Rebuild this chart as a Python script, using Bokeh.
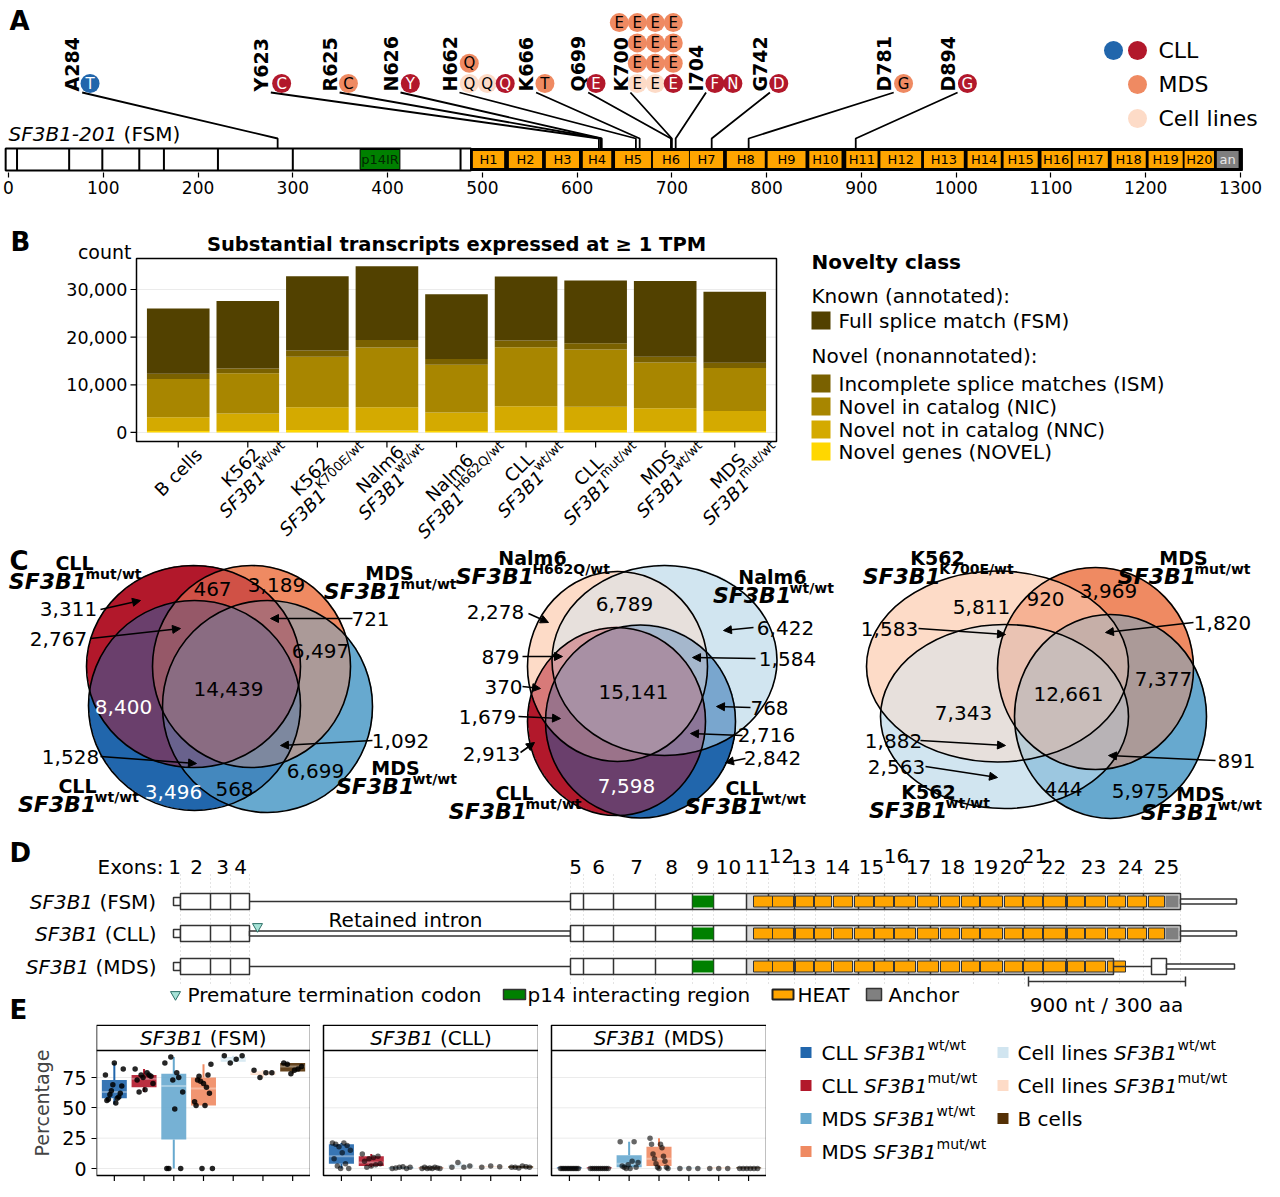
import numpy as np
from bokeh.plotting import figure
from bokeh.layouts import column, row
from bokeh.models import Range1d, FixedTicker, ColumnDataSource, Arrow, NormalHead
from bokeh.embed import file_html
from bokeh.resources import INLINE
from bokeh.core.properties import value

FONT = "DejaVu Sans"

# ======================= DATA =======================
# ---- Panel A: SF3B1 protein, hotspot mutations ----
protein_len = 1304
mut_pos = [284, 623, 625, 626, 662, 666, 699, 700, 704, 742, 781, 894]
mut_label = ["A284", "Y623", "R625", "N626", "H662", "K666", "Q699", "K700", "I704", "G742", "D781", "D894"]
var_mut = [0, 1, 2, 3, 4, 4, 4, 4, 5, 6,
           7, 7, 7, 7, 7, 7, 7, 7, 7, 7, 7, 7, 7,
           8, 8, 9, 10, 11]
var_aa = ["T", "C", "C", "Y", "Q", "Q", "Q", "Q", "T", "E",
          "E", "E", "E", "E", "E", "E", "E", "E", "E", "E", "E", "E", "E",
          "F", "N", "D", "G", "G"]
var_cohort = ["CLLb", "CLL", "MDS", "CLL", "CL", "CL", "CLL", "MDS", "MDS", "CLL",
              "CL", "CL", "CLL", "MDS", "MDS", "MDS", "MDS", "MDS", "MDS", "MDS", "MDS", "MDS", "MDS",
              "CLL", "CLL", "CLL", "MDS", "CLL"]
var_col = [0, 0, 0, 0, 0, 1, 2, 0, 0, 0,
           0, 1, 2, 0, 1, 2, 0, 1, 2, -1, 0, 1, 2,
           0, 1, 0, 0, 0]
var_row = [0, 0, 0, 0, 0, 0, 0, 1, 0, 0,
           0, 0, 0, 1, 1, 1, 2, 2, 2, 3, 3, 3, 3,
           0, 0, 0, 0, 0]
exon_div_aa = [9, 64, 99, 138, 164, 221, 300, 477]
p14_aa = (371, 413)
heat_region_aa = (488, 1302)
heat_start = [490, 528, 567, 606, 640, 680, 719, 758, 801, 845, 884, 920, 966, 1012, 1050, 1090, 1123, 1164, 1203, 1241]
heat_end = [523, 563, 602, 636, 678, 718, 754, 798, 841, 879, 917, 963, 1008, 1047, 1086, 1121, 1160, 1200, 1239, 1272]
heat_name = ["H%d" % (i + 1) for i in range(20)]
anchor_aa = (1275, 1298)
a_ticks = list(range(0, 1301, 100))

# ---- Panel B: transcripts per novelty class ----
b_line1 = ["B cells", "K562", "K562", "Nalm6", "Nalm6", "CLL", "CLL", "MDS", "MDS"]
b_geno = [None, "wt/wt", "K700E/wt", "wt/wt", "H662Q/wt", "wt/wt", "mut/wt", "wt/wt", "mut/wt"]
b_fsm = [13700, 14200, 15600, 15500, 13600, 13400, 13200, 15900, 14900]
b_ism = [1100, 1000, 1300, 1600, 1200, 1400, 1300, 1200, 1100]
b_nic = [8000, 8400, 10600, 12500, 10000, 12400, 12000, 9600, 9000]
b_nnc = [2900, 3700, 4800, 4900, 3900, 5100, 4900, 4800, 4200]
b_novel = [300, 300, 500, 400, 300, 400, 500, 300, 300]
b_classes = ["Full splice match (FSM)", "Incomplete splice matches (ISM)", "Novel in catalog (NIC)",
             "Novel not in catalog (NNC)", "Novel genes (NOVEL)"]
b_ticks = [0, 10000, 20000, 30000]
b_ylim = (-1900, 36500)

# ---- Panel C: Venn counts ----
v1_text = ["3,311", "2,767", "467", "3,189", "721", "6,497", "14,439", "8,400", "1,528", "1,092", "6,699", "3,496", "568"]
v2_text = ["2,278", "879", "370", "1,679", "2,913", "6,789", "15,141", "7,598", "6,422", "1,584", "768", "2,716", "2,842"]
v3_text = ["5,811", "920", "3,969", "1,583", "1,820", "7,377", "12,661", "7,343", "1,882", "2,563", "891", "444", "5,975"]

# ---- Panel E: isoform percentages ----
E_groups = ["CLL wt/wt", "CLL mut/wt", "MDS wt/wt", "MDS mut/wt", "Cell lines wt/wt", "Cell lines mut/wt", "B cells"]
E_facets = ["FSM", "CLL", "MDS"]
E_ticks = [0, 25, 50, 75]
E_lo = [[53, 63, 0, 52, 87, 75, 78], [0, 1, 0, 0, 1, 1, 0.5], [0, 0, 0, 0, 0, 0, 0]]
E_q1 = [[58, 67, 24, 52, 88, 77, 80], [4, 2, 0, 0, 1, 1, 0.5], [0, 0, 1, 2, 0, 0, 0]]
E_med = [[63, 74, 68, 66, 90, 79, 84], [10, 5, 0.5, 0.3, 2, 1.5, 1], [0, 0, 4, 8, 0, 0, 0]]
E_q3 = [[73, 77, 78, 75, 92, 80, 87], [20, 10, 1, 1, 3, 2, 2], [1, 1, 11, 18, 1, 1, 1]]
E_hi = [[87, 82, 92, 86, 93, 81, 87], [21, 12, 1.5, 1, 5, 2, 2], [1, 1, 22, 25, 1, 1, 1]]
E_pts = [
    [[77, 54, 56, 58, 57, 59, 61, 62, 64, 68, 69, 82, 87],
     [82, 77, 75, 73, 76, 65, 63, 70, 79, 77],
     [87, 75, 73, 0, 0, 49, 0, 63, 79, 92],
     [55, 52, 52, 67, 73, 77, 76, 62, 72, 86, 0, 0, 70],
     [93, 93, 90, 87],
     [81, 79, 79, 75],
     [87, 86, 78, 81, 82, 84]],
    [[21, 21, 20, 19, 18, 15, 13, 8, 4, 2, 0, 0],
     [12, 10, 9, 8, 6, 4, 3, 2, 1],
     [0, 0.5, 1, 1.5, 0, 1],
     [0, 0, 0.5, 1, 0, 0.5, 0, 1],
     [1, 2, 1, 5],
     [1, 2, 1.5],
     [1, 1, 0.5, 2, 1.5, 1]],
    [[0, 0, 0, 0, 0, 0, 0, 0, 0, 0, 0, 0],
     [0, 0, 0, 0, 0, 0, 0, 0, 0, 0],
     [22, 22, 3, 2, 1, 0, 1, 5, 6, 0],
     [25, 20, 20, 17, 12, 10, 8, 6, 4, 1, 1, 0, 0],
     [0, 0, 0],
     [0, 0, 0],
     [0, 0, 0, 0, 0, 0]],
]

# ======================= STYLE / HELPERS =======================
C_CLLWT, C_CLLMUT, C_MDSWT, C_MDSMUT = "#2166ac", "#b2182b", "#67a9cf", "#ef8a62"
C_CLWT, C_CLMUT, C_BC = "#d1e5f0", "#fddbc7", "#543005"
E_colors = [C_CLLWT, C_CLLMUT, C_MDSWT, C_MDSMUT, C_CLWT, C_CLMUT, C_BC]
cohort_col = {"CLLb": C_CLLWT, "CLL": C_CLLMUT, "MDS": C_MDSMUT, "CL": C_CLMUT}
cohort_txt = {"CLLb": "white", "CLL": "white", "MDS": "black", "CL": "black"}
B_COLS = ["#524100", "#7a6100", "#a88600", "#d4aa00", "#ffd700"]  # FSM, ISM, NIC, NNC, NOVEL
OUT = "#333333"

CW = {' ': .318, '!': .4, '(': .39, ')': .39, ',': .318, '-': .361, '.': .318, '/': .337, ':': .337,
      'A': .684, 'B': .686, 'C': .698, 'D': .77, 'E': .632, 'F': .575, 'G': .775, 'H': .752, 'I': .295,
      'K': .656, 'L': .557, 'M': .863, 'N': .748, 'O': .787, 'P': .603, 'Q': .787, 'R': .695, 'S': .635,
      'T': .611, 'U': .732, 'V': .684, 'W': .989, 'X': .685, 'Y': .611, 'Z': .685,
      'a': .613, 'b': .635, 'c': .55, 'd': .635, 'e': .615, 'f': .352, 'g': .635, 'h': .634, 'i': .278,
      'j': .278, 'k': .579, 'l': .278, 'm': .974, 'n': .634, 'o': .612, 'p': .635, 'q': .635, 'r': .411,
      's': .521, 't': .392, 'u': .634, 'v': .592, 'w': .818, 'x': .592, 'y': .592, 'z': .525}
for _d in "0123456789":
    CW[_d] = .636


def tw(s, size, bold=False):
    return sum(CW.get(ch, .6) for ch in s) * size * (1.1 if bold else 1.0)


def hex2rgb(h):
    h = h.lstrip('#')
    return [int(h[i:i + 2], 16) for i in (0, 2, 4)]


def T(p, x, y, text, size, style="normal", align="left", baseline="middle", color="black", angle=0.0):
    xs = list(x) if isinstance(x, (list, tuple, np.ndarray)) else [x]
    ys = list(y) if isinstance(y, (list, tuple, np.ndarray)) else [y]
    ts = list(text) if isinstance(text, (list, tuple)) else [text]
    p.text(x=xs, y=ys, text=ts, angle=angle, text_font=value(FONT), text_font_size="%gpx" % size,
           text_font_style=style, text_align=align, text_baseline=baseline, text_color=color)


def rich(p, x, y, parts, align="left", color="black", xscale=1.0, yfun=None):
    """parts: (text, size, style, rise_px). x in data units (xscale px per unit), y in panel px."""
    ws = [tw(t, sz, 'bold' in st) for (t, sz, st, r) in parts]
    tot = sum(ws)
    x0 = 0.0 if align == "left" else (-tot if align == "right" else -tot / 2.0)
    for (t, sz, st, r), w in zip(parts, ws):
        lead = len(t) - len(t.lstrip(' '))
        xd = x0 + tw(' ' * lead, sz, 'bold' in st)
        yy = (y - r) if yfun is None else yfun(y, r)
        T(p, x + xd / xscale, -yy if yfun is None else yy, t.strip(' '), sz, st, "left", "middle", color)
        x0 += w


def panel_fig(x0, x1, y0, y1):
    """Figure whose data coordinates are panel pixels (x right, -y down)."""
    p = figure(width=int(x1 - x0), height=int(y1 - y0), x_range=Range1d(x0, x1), y_range=Range1d(-y1, -y0),
               toolbar_location=None, output_backend="svg", x_axis_location=None, y_axis_location=None,
               min_border=0)
    p.grid.visible = False
    p.outline_line_color = None
    return p


# ======================= PANEL A (y: 0-206) =======================
SA = 0.9477
XA0 = -8 / SA
pA = figure(width=1264, height=206, x_range=Range1d(XA0, XA0 + 1264 / SA), y_range=Range1d(-172, 0),
            toolbar_location=None, output_backend="svg", y_axis_location=None,
            min_border_left=0, min_border_right=0, min_border_top=0, min_border_bottom=34)
pA.outline_line_color = None
pA.grid.visible = False
pA.xaxis.ticker = FixedTicker(ticks=a_ticks, minor_ticks=[])
pA.xaxis.axis_line_color = None
pA.xaxis.major_tick_out = 5
pA.xaxis.major_tick_in = 0
pA.xaxis.major_tick_line_color = "black"
pA.xaxis.major_tick_line_width = 1.2
pA.xaxis.major_label_standoff = 3
pA.xaxis.major_label_text_font = FONT
pA.xaxis.major_label_text_font_size = "17px"
pA.xaxis.major_label_text_color = "black"


def AX(ref_x):      # layout position tied to residue scale
    return (ref_x - 8) / 0.9646


def PXA(ref_x):     # plain panel pixel position
    return XA0 + ref_x / SA


mut_label_x = [73, 265, 335, 397, 457, 535, 588, 631, 708, 773, 899, 964]
circ_x0 = [91, 286, 354, 417, 477, 554, 606, 648, 727, 792, 919, 984]

T(pA, PXA(9), -20, "A", 26, "bold")
rich(pA, PXA(8), 133, [("SF3B1-201", 20, "italic", 0), (" (FSM)", 20, "normal", 0)], xscale=SA)

pA.multi_line(xs=[[AX(mut_label_x[i] + 10), mut_pos[i], mut_pos[i]] for i in range(len(mut_pos))],
              ys=[[-92, -138, -148] for _ in mut_pos], line_color="black", line_width=1.8)
pA.quad(left=-3, right=heat_region_aa[0], top=-148, bottom=-170, fill_color="white", line_color="black", line_width=2)
pA.segment(x0=exon_div_aa, y0=-148, x1=exon_div_aa, y1=-170, line_color="black", line_width=2)
pA.quad(left=p14_aa[0], right=p14_aa[1], top=-149, bottom=-169, fill_color="#008000", line_color="black", line_width=1)
T(pA, (p14_aa[0] + p14_aa[1]) / 2, -159, "p14IR", 13, align="center", color="#002800")
pA.quad(left=heat_region_aa[0], right=heat_region_aa[1], top=-148, bottom=-170, fill_color="black", line_color="black")
pA.quad(left=heat_start, right=heat_end, top=-150.5, bottom=-167.5, fill_color="#ffa500", line_color=None)
T(pA, [(a + b) / 2 for a, b in zip(heat_start, heat_end)], [-159] * 20, heat_name, 13, align="center")
pA.quad(left=anchor_aa[0], right=anchor_aa[1], top=-150.5, bottom=-167.5, fill_color="#7f7f7f", line_color=None)
T(pA, (anchor_aa[0] + anchor_aa[1]) / 2, -159, "an", 13, align="center", color="#e8e8e8")

T(pA, [AX(x) for x in mut_label_x], [-91] * len(mut_label_x), mut_label, 19, "bold", "left", "middle",
  angle=np.pi / 2)
cx = [AX(circ_x0[m] + c * 18.3) for m, c in zip(var_mut, var_col)]
cy = [-(83 - r * 20.3) for r in var_row]
pA.scatter(x=cx, y=cy, size=19, marker="circle", fill_color=[cohort_col[c] for c in var_cohort], line_color=None)
for col_key in ("white", "black"):
    idx = [i for i, c in enumerate(var_cohort) if cohort_txt[c] == col_key]
    T(pA, [cx[i] for i in idx], [cy[i] for i in idx], [var_aa[i] for i in idx], 15, "normal", "center",
      "middle", color=col_key)
pA.scatter(x=[PXA(1113), PXA(1137), PXA(1137), PXA(1137)], y=[-50, -50, -84, -118], size=19, marker="circle",
           fill_color=[C_CLLWT, C_CLLMUT, C_MDSMUT, C_CLMUT], line_color=None)
T(pA, [PXA(1158)] * 3, [-50, -84, -118], ["CLL", "MDS", "Cell lines"], 22)

# ======================= PANEL B (y: 206-545) =======================
B_TOP, B_BOT = 206, 545
nB = len(b_line1)
PXB_X = 640 / 9.2                      # px per category unit
PXB_Y = 183.0 / (b_ylim[1] - b_ylim[0])  # px per count
Y0B = 258 + b_ylim[1] * PXB_Y          # panel pixel row of count 0
XB0 = 0.4 - 136 / PXB_X
pB = figure(width=790, height=B_BOT - B_TOP, x_range=Range1d(XB0, XB0 + 790 / PXB_X),
            y_range=Range1d((Y0B - B_BOT) / PXB_Y, (Y0B - B_TOP) / PXB_Y),
            toolbar_location=None, output_backend="svg", x_axis_location=None, y_axis_location=None, min_border=0)
pB.grid.visible = False
pB.outline_line_color = None


def bxp(ref_x):
    return XB0 + ref_x / PXB_X


def by(ref_y):
    return (Y0B - ref_y) / PXB_Y


xl, xr = 0.4, nB + 0.6
pB.segment(x0=[xl] * 4, y0=b_ticks, x1=[xr] * 4, y1=b_ticks, line_color="#ebebeb", line_width=1)
srcB = ColumnDataSource(dict(x=list(range(1, nB + 1)), NOVEL=b_novel, NNC=b_nnc, NIC=b_nic, ISM=b_ism, FSM=b_fsm))
pB.vbar_stack(["NOVEL", "NNC", "NIC", "ISM", "FSM"], x="x", width=0.9, source=srcB,
              color=[B_COLS[4], B_COLS[3], B_COLS[2], B_COLS[1], B_COLS[0]], line_color=None)
pB.quad(left=xl, right=xr, bottom=b_ylim[0], top=b_ylim[1], fill_color=None, line_color="black", line_width=1.5)
pB.segment(x0=[bxp(130)] * 4, y0=b_ticks, x1=[xl] * 4, y1=b_ticks, line_color="black", line_width=1.2)
T(pB, [bxp(127)] * 4, b_ticks, ["{:,}".format(v) for v in b_ticks], 17.5, align="right")
pB.segment(x0=list(range(1, nB + 1)), y0=[b_ylim[0]] * nB, x1=list(range(1, nB + 1)), y1=[by(447)] * nB,
           line_color="black", line_width=1.2)
T(pB, bxp(10), by(241), "B", 26, "bold")
T(pB, bxp(131), by(251), "count", 19, align="right")
T(pB, bxp(456), by(244), "Substantial transcripts expressed at \u2265 1 TPM", 19.5, "bold", "center")

ang = np.pi / 4
cc = np.sqrt(0.5)
U = np.array([cc, -cc])
V = np.array([cc, cc])
fsB, fsupB, lhB, riseB, topB = 18, 13, 20, 7.5, 441
l1x, l1y, l1t, l2x, l2y, l3x, l3y, l3t = [], [], [], [], [], [], [], []
for i in range(nB):
    w1 = tw(b_line1[i], fsB)
    pos = i + 1
    if b_geno[i] is None:
        C = np.array([0.0, topB + 3 + 0.3535 * (w1 + lhB)])
        l1x.append(pos + C[0] / PXB_X); l1y.append(by(C[1])); l1t.append(b_line1[i])
    else:
        wm = tw("SF3B1", fsB)
        ws = tw(b_geno[i], fsupB)
        w2 = wm + ws
        C = np.array([0.0, topB + max(0.3535 * w2, 0.3535 * w1 + 0.707 * lhB)])
        L1 = C - (lhB / 2) * V
        S2 = C + (lhB / 2) * V - (w2 / 2) * U
        SP = S2 + wm * U - riseB * V
        l1x.append(pos + L1[0] / PXB_X); l1y.append(by(L1[1])); l1t.append(b_line1[i])
        l2x.append(pos + S2[0] / PXB_X); l2y.append(by(S2[1]))
        l3x.append(pos + SP[0] / PXB_X); l3y.append(by(SP[1])); l3t.append(b_geno[i])
T(pB, l1x, l1y, l1t, fsB, "normal", "center", angle=ang)
T(pB, l2x, l2y, ["SF3B1"] * len(l2x), fsB, "italic", "left", angle=ang)
T(pB, l3x, l3y, l3t, fsupB, "normal", "left", angle=ang)

pBL = panel_fig(790, 1264, B_TOP, B_BOT)
T(pBL, 811, -261, "Novelty class", 20, "bold")
T(pBL, 811, -295, "Known (annotated):", 20)
T(pBL, 811, -355, "Novel (nonannotated):", 20)
leg_y = [320, 383, 406, 429, 451]
pBL.quad(left=811, right=830, top=[-(y - 9) for y in leg_y], bottom=[-(y + 9) for y in leg_y],
         fill_color=B_COLS, line_color=None)
T(pBL, [838] * 5, [-y for y in leg_y], b_classes, 20)

# ======================= PANEL C (y: 545-826) =======================
pC = panel_fig(0, 1264, B_BOT, 826)
T(pC, 9, -560, "C", 26, "bold")


def venn_draw(p, ells, cols, res=2):
    x0 = min(e[0] - e[2] / 2 for e in ells) - 3
    x1 = max(e[0] + e[2] / 2 for e in ells) + 3
    y0 = min(e[1] - e[3] / 2 for e in ells) - 3
    y1 = max(e[1] + e[3] / 2 for e in ells) + 3
    nx = int(np.ceil((x1 - x0) * res))
    ny = int(np.ceil((y1 - y0) * res))
    X = x0 + (np.arange(nx) + 0.5) / res
    Y = y1 - (np.arange(ny) + 0.5) / res
    XX, YY = np.meshgrid(X, Y)
    acc = np.zeros((ny, nx, 3))
    cnt = np.zeros((ny, nx))
    for (ex, ey, w, h), c in zip(ells, cols):
        m = ((XX - ex) / (w / 2.0)) ** 2 + ((YY - ey) / (h / 2.0)) ** 2 <= 1.0
        acc[m] += np.array(hex2rgb(c), float)
        cnt[m] += 1
    img = np.zeros((ny, nx, 4), dtype=np.uint8)
    nz = cnt > 0
    img[nz, :3] = np.round(acc[nz] / cnt[nz][:, None]).astype(np.uint8)
    img[nz, 3] = 255
    arr = img.view(np.uint32).reshape(ny, nx)
    p.image_rgba(image=[arr], x=x0, y=-y1, dw=nx / res, dh=ny / res)
    p.ellipse(x=[e[0] for e in ells], y=[-e[1] for e in ells], width=[e[2] for e in ells],
              height=[e[3] for e in ells], fill_color=None, line_color="black", line_width=1.6)


def venn_title(p, cxp, y1, l1, sup):
    T(p, cxp, -y1, l1, 19, "bold", "center")
    rich(p, cxp, y1 + 19, [("SF3B1", 22, "bold italic", 0), (sup, 14, "bold", 8)], "center")


v1_ell = [(193, 666, 214, 202), (251, 666, 198, 202), (194, 705, 212, 210), (267, 706, 210, 212)]
v1_col = [C_CLLMUT, C_MDSMUT, C_CLLWT, C_MDSWT]
v2_ell = [(617, 666, 180, 190), (664, 660, 225, 190), (616, 721, 178, 188), (640, 721, 190, 193)]
v2_col = [C_CLMUT, C_CLWT, C_CLLMUT, C_CLLWT]
v3_ell = [(997, 666, 262, 191), (1095, 668, 196, 202), (1004, 716, 248, 184), (1110, 716, 192, 204)]
v3_col = [C_CLMUT, C_MDSMUT, C_CLWT, C_MDSWT]

v1_pos = [(68, 608), (58, 638), (212, 588), (276, 584), (370, 618), (320, 650), (228, 688), (123, 706),
          (70, 756), (400, 740), (315, 770), (173, 791), (234, 788)]
v1_white = [7, 11]
v1_arr = [(100, 609, 140, 600), (90, 638, 180, 628), (352, 618, 270, 618), (100, 756, 196, 763),
          (372, 740, 280, 745)]
v2_pos = [(495, 611), (500, 656), (503, 686), (487, 716), (491, 753), (624, 603), (633, 691), (626, 785),
          (785, 627), (787, 658), (769, 707), (766, 734), (772, 757)]
v2_white = [7]
v2_arr = [(528, 613, 548, 622), (522, 656, 562, 656), (522, 686, 540, 688), (518, 716, 560, 718),
          (520, 752, 534, 742), (753, 627, 723, 630), (755, 658, 692, 657), (750, 707, 716, 706),
          (742, 735, 690, 733), (745, 758, 725, 762)]
v3_pos = [(981, 606), (1045, 598), (1108, 590), (889, 628), (1222, 622), (1163, 678), (1068, 693),
          (963, 712), (893, 740), (896, 766), (1236, 760), (1063, 788), (1140, 790)]
v3_white = []
v3_arr = [(918, 628, 1005, 634), (1193, 622, 1105, 632), (920, 740, 1005, 745), (925, 766, 997, 777),
          (1215, 760, 1108, 755)]

for ells, cols, texts, pos, wh, arrs in [(v1_ell, v1_col, v1_text, v1_pos, v1_white, v1_arr),
                                         (v2_ell, v2_col, v2_text, v2_pos, v2_white, v2_arr),
                                         (v3_ell, v3_col, v3_text, v3_pos, v3_white, v3_arr)]:
    venn_draw(pC, ells, cols)
    kk = [i for i in range(len(texts)) if i not in wh]
    T(pC, [pos[i][0] for i in kk], [-pos[i][1] for i in kk], [texts[i] for i in kk], 20, "normal", "center")
    if wh:
        T(pC, [pos[i][0] for i in wh], [-pos[i][1] for i in wh], [texts[i] for i in wh], 20, "normal",
          "center", color="white")
    src = ColumnDataSource(dict(xs=[a[0] for a in arrs], ys=[-a[1] for a in arrs],
                                xe=[a[2] for a in arrs], ye=[-a[3] for a in arrs]))
    pC.add_layout(Arrow(end=NormalHead(size=8, fill_color="black", line_color="black", line_width=1),
                        x_start="xs", y_start="ys", x_end="xe", y_end="ye", source=src,
                        line_width=1.6, line_color="black"))

venn_title(pC, 74, 562, "CLL", "mut/wt")
venn_title(pC, 389, 572, "MDS", "mut/wt")
venn_title(pC, 77, 785, "CLL", "wt/wt")
venn_title(pC, 395, 767, "MDS", "wt/wt")
venn_title(pC, 532, 557, "Nalm6", "H662Q/wt")
venn_title(pC, 772, 576, "Nalm6", "wt/wt")
venn_title(pC, 514, 792, "CLL", "mut/wt")
venn_title(pC, 744, 787, "CLL", "wt/wt")
venn_title(pC, 937, 557, "K562", "K700E/wt")
venn_title(pC, 1183, 557, "MDS", "mut/wt")
venn_title(pC, 928, 791, "K562", "wt/wt")
venn_title(pC, 1200, 793, "MDS", "wt/wt")

# ======================= PANEL D (y: 826-1024) =======================
pD = panel_fig(0, 1264, 826, 1024)
T(pD, 9, -852, "D", 26, "bold")
T(pD, 9, -1009, "E", 26, "bold")

exon_num_x = [174, 196, 222, 240, 575, 598, 636, 671, 702, 728, 757, 781, 803, 837, 871, 896, 918, 952, 985,
              1012, 1034, 1053, 1093, 1130, 1166]
exon_raised = [12, 16, 21]
T(pD, 163, -866, "Exons:", 20, align="right")
T(pD, exon_num_x, [-(855 if (i + 1) in exon_raised else 866) for i in range(25)],
  [str(i + 1) for i in range(25)], 20, align="center")

notch = (173, 180)
block1 = (180, 249)
block1_div = [210, 230]
block2_left = 570
block2_right = [1180, 1180, 1113]
block2_div = [583, 613, 655, 692, 713, 746, 768, 794, 815, 858, 884, 908, 930, 973, 998, 1024, 1043, 1066, 1119, 1143]
p14_px = (692, 713)
heat_px_s = [753, 772, 795, 814, 833, 854, 874, 894, 917, 940, 961, 980, 1004, 1023, 1043, 1067, 1085, 1107, 1127, 1148]
heat_px_e = [772, 793, 813, 831, 852, 873, 893, 915, 938, 959, 979, 1002, 1022, 1042, 1065, 1084, 1105, 1125, 1146, 1164]
heat_n_rows = [20, 20, 18]
anchor_px = (1165, 1178)
rows_y = [901, 933, 966]
row_tag = [" (FSM)", " (CLL)", " (MDS)"]

guide_x = [180, 210, 230, 249, 570] + block2_div + [1180]
pD.segment(x0=guide_x, y0=[-874] * len(guide_x), x1=guide_x, y1=[-984] * len(guide_x),
           line_color="#c8c8c8", line_width=1, line_dash="1 3")

for r, y in enumerate(rows_y):
    rich(pD, 156, y, [("SF3B1", 20, "italic", 0), (row_tag[r], 20, "normal", 0)], "right")
    pD.quad(left=notch[0], right=notch[1], top=-(y - 4), bottom=-(y + 4), fill_color="white", line_color=OUT, line_width=1.5)
    pD.quad(left=block1[0], right=block1[1], top=-(y - 8), bottom=-(y + 8), fill_color="white", line_color=OUT, line_width=1.5)
    pD.segment(x0=block1_div, y0=-(y - 8), x1=block1_div, y1=-(y + 8), line_color=OUT, line_width=1.5)
    if r == 1:
        pD.quad(left=block1[1], right=block2_left, top=-(y - 2.5), bottom=-(y + 2.5), fill_color="white",
                line_color=OUT, line_width=1.5)
        pD.scatter(x=[257], y=[-(y - 7)], marker="inverted_triangle", size=10, fill_color="#a6e3d7",
                   line_color="#2b6f66", line_width=1)
    else:
        pD.segment(x0=block1[1], y0=-y, x1=block2_left, y1=-y, line_color=OUT, line_width=1.5)
    right = block2_right[r]
    pD.quad(left=block2_left, right=right, top=-(y - 8), bottom=-(y + 8), fill_color="white", line_color=None)
    pD.quad(left=746, right=right, top=-(y - 8), bottom=-(y + 8), fill_color="#dadada", line_color=None)
    dv = [d for d in block2_div if d < right]
    pD.segment(x0=dv, y0=-(y - 8), x1=dv, y1=-(y + 8), line_color=OUT, line_width=1.5)
    pD.quad(left=p14_px[0], right=p14_px[1], top=-(y - 6), bottom=-(y + 6), fill_color="#008000", line_color=None)
    nh = heat_n_rows[r]
    pD.quad(left=heat_px_s[:nh], right=heat_px_e[:nh], top=-(y - 5.5), bottom=-(y + 5.5), fill_color="#ffa500",
            line_color=OUT, line_width=1)
    pD.quad(left=block2_left, right=right, top=-(y - 8), bottom=-(y + 8), fill_color=None, line_color=OUT,
            line_width=1.5)
    if r < 2:
        pD.quad(left=anchor_px[0], right=anchor_px[1], top=-(y - 6), bottom=-(y + 6), fill_color="#808080", line_color=None)
        pD.quad(left=1180, right=1236, top=-(y - 2.5), bottom=-(y + 2.5), fill_color="white", line_color=OUT, line_width=1.5)
    else:
        pD.segment(x0=right, y0=-y, x1=1151, y1=-y, line_color=OUT, line_width=1.5)
        pD.quad(left=1151, right=1166, top=-(y - 8), bottom=-(y + 8), fill_color="white", line_color=OUT, line_width=1.5)
        pD.quad(left=1166, right=1234, top=-(y - 2.5), bottom=-(y + 2.5), fill_color="white", line_color=OUT, line_width=1.5)

T(pD, 405, -919, "Retained intron", 20, align="center")
pD.scatter(x=[175], y=[-994], marker="inverted_triangle", size=10, fill_color="#a6e3d7", line_color="#2b6f66")
T(pD, 187, -994, "Premature termination codon", 20)
pD.quad(left=503, right=525, top=-989, bottom=-999, fill_color="#008000", line_color=OUT, line_width=1.5)
T(pD, 527, -994, "p14 interacting region", 20)
pD.quad(left=772, right=793, top=-989, bottom=-999, fill_color="#ffa500", line_color="#222222", line_width=2)
T(pD, 797, -994, "HEAT", 20)
pD.quad(left=866, right=881, top=-988, bottom=-1000, fill_color="#808080", line_color=OUT, line_width=1.5)
T(pD, 888, -994, "Anchor", 20)
pD.segment(x0=[1028, 1028, 1185], y0=[-981, -976, -976], x1=[1185, 1028, 1185], y1=[-981, -986, -986],
           line_color=OUT, line_width=1.5)
T(pD, 1106, -1004, "900 nt / 300 aa", 20, align="center")

# ======================= PANEL E (y: 1024-1181) =======================
E_tags = [" (FSM)", " (CLL)", " (MDS)"]
EPX_Y = 1.2133          # px per percentage point
EY0 = 1168              # panel pixel row of 0 %


def ev(ref_y):
    return (EY0 - ref_y) / EPX_Y


def jit(n):
    base = np.linspace(-0.3, 0.3, n) if n > 1 else np.array([0.0])
    return [float(base[(k * 7) % n]) for k in range(n)]


efigs = []
for k in range(3):
    pxu = (214 if k == 0 else 215) / 7.2
    if k == 0:
        p = figure(width=310, height=157, x_range=Range1d(0.4, 7.6), y_range=Range1d(ev(1181), ev(1024)),
                   toolbar_location=None, output_backend="svg", x_axis_location=None,
                   min_border_left=96, min_border_right=0, min_border_top=0, min_border_bottom=0)
        p.yaxis.ticker = FixedTicker(ticks=E_ticks, minor_ticks=[])
        p.yaxis.axis_line_color = None
        p.yaxis.major_tick_out = 5
        p.yaxis.major_tick_in = 0
        p.yaxis.major_tick_line_width = 1.2
        p.yaxis.major_label_text_font = FONT
        p.yaxis.major_label_text_font_size = "19px"
        p.yaxis.major_label_text_color = "black"
        p.yaxis.axis_label = "Percentage"
        p.yaxis.axis_label_text_font = FONT
        p.yaxis.axis_label_text_font_size = "19px"
        p.yaxis.axis_label_text_font_style = "normal"
        p.yaxis.axis_label_standoff = 6
    else:
        xs0 = 0.4 - 13 / pxu
        p = figure(width=228, height=157, x_range=Range1d(xs0, xs0 + 228 / pxu), y_range=Range1d(ev(1181), ev(1024)),
                   toolbar_location=None, output_backend="svg", x_axis_location=None, y_axis_location=None,
                   min_border=0)
    p.grid.visible = False
    p.outline_line_color = None
    vbot, vsep, vtop = ev(1175), ev(1050), ev(1024.8)
    p.segment(x0=[0.4] * 4, y0=E_ticks, x1=[7.6] * 4, y1=E_ticks, line_color="#ebebeb", line_width=1)
    p.quad(left=0.4, right=7.6, bottom=vbot, top=vtop, fill_color=None, line_color="black", line_width=1.5)
    p.segment(x0=[0.4], y0=[vsep], x1=[7.6], y1=[vsep], line_color="black", line_width=1.5)
    xsg = list(range(1, 8))
    p.segment(x0=xsg, y0=[vbot] * 7, x1=xsg, y1=[ev(1181)] * 7, line_color="black", line_width=1.2)
    rich(p, 4.0, ev(1037), [("SF3B1", 20, "italic", 0), (E_tags[k], 20, "normal", 0)], "center",
         xscale=pxu, yfun=lambda yy, rr: yy + rr / EPX_Y)
    q1 = E_q1[k]
    q3 = [max(a, b) for a, b in zip(E_q3[k], E_q1[k])]
    p.segment(x0=xsg, y0=E_lo[k], x1=xsg, y1=q1, line_color=E_colors, line_width=2)
    p.segment(x0=xsg, y0=q3, x1=xsg, y1=E_hi[k], line_color=E_colors, line_width=2)
    p.quad(left=[x - 0.42 for x in xsg], right=[x + 0.42 for x in xsg], bottom=q1, top=q3,
           fill_color=E_colors, fill_alpha=0.9, line_color=None)
    p.segment(x0=[x - 0.42 for x in xsg], y0=E_med[k], x1=[x + 0.42 for x in xsg], y1=E_med[k],
              line_color="white", line_alpha=0.35, line_width=2)
    px_, py_ = [], []
    for g in range(7):
        vals = E_pts[k][g]
        off = jit(len(vals))
        px_ += [g + 1 + o for o in off]
        py_ += vals
    p.scatter(x=px_, y=py_, size=5.5, marker="circle", fill_color="black", line_color=None,
              fill_alpha=0.85 if k == 0 else 0.6)
    efigs.append(p)

pEL = panel_fig(766, 1264, 1024, 1181)
leg_rows = [1052, 1085, 1118, 1151]
e_prefix = ["CLL ", "CLL ", "MDS ", "MDS ", "Cell lines ", "Cell lines ", "B cells"]
e_sup = ["wt/wt", "mut/wt", "wt/wt", "mut/wt", "wt/wt", "mut/wt", None]
for g in range(7):
    if g < 4:
        sx, tx, yy = 800, 821, leg_rows[g]
    else:
        sx, tx, yy = 997, 1017, leg_rows[g - 4]
    pEL.quad(left=sx, right=sx + 11, top=-(yy - 5.5), bottom=-(yy + 5.5), fill_color=E_colors[g], line_color=None)
    if e_sup[g] is None:
        T(pEL, tx, -yy, e_prefix[g], 20)
    else:
        rich(pEL, tx, yy, [(e_prefix[g], 20, "normal", 0), ("SF3B1", 20, "italic", 0), (e_sup[g], 14, "normal", 8)])

layout = column(pA, row(pB, pBL), pC, pD, row(efigs[0], efigs[1], efigs[2], pEL))
open("out.html", "w").write(file_html(layout, INLINE))
